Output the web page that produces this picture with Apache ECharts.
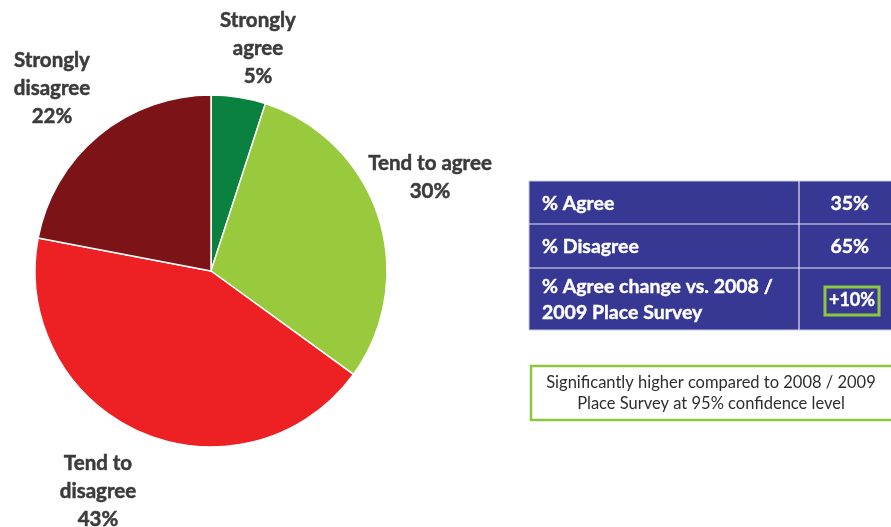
<!DOCTYPE html>
<html>
<head>
<meta charset="utf-8">
<script src="https://cdn.jsdelivr.net/npm/echarts@6/dist/echarts.min.js"></script>
<style>
  html, body { margin: 0; padding: 0; background: #ffffff; }
  #chart { width: 891px; height: 527px; }
</style>
</head>
<body>
<div id="chart"></div>
<script>
// Survey response shares (percent)
const categories = ['Strongly agree', 'Tend to agree', 'Tend to disagree', 'Strongly disagree'];
const labelLines = ['Strongly\nagree', 'Tend to agree', 'Tend to\ndisagree', 'Strongly\ndisagree'];
const shares = [5, 30, 43, 22];
const colors = ['#0b8140', '#99c93c', '#ed2024', '#7b1317'];

// Summary table
const tableLabels = ['% Agree', '% Disagree', '% Agree change vs. 2008 /\n2009 Place Survey'];
const tableValues = ['35%', '65%', '+10%'];
const noteText = 'Significantly higher compared to 2008 / 2009\nPlace Survey at 95% confidence level';

const FONT = 'Lato, "Open Sans", sans-serif';
const TEXT = '#3b3b3b';

// label anchor points (centre of each label block)
const labelAnchors = [[258, 48], [430, 177], [98, 491], [52, 88]];

const chart = echarts.init(document.getElementById('chart'), null, { renderer: 'canvas' });

// table geometry
const tX = 529, tY = 181, tW = 366, colX = 799;
const rowY = [181, 224, 268, 330];
const tableGraphics = [];
tableGraphics.push({
  type: 'rect', shape: { x: tX, y: tY, width: tW, height: rowY[3] - tY },
  style: { fill: '#363893', stroke: '#c9c9dd', lineWidth: 1 }, z: 10
});
for (let i = 1; i < 3; i++) {
  tableGraphics.push({
    type: 'line', shape: { x1: tX, y1: rowY[i], x2: tX + tW, y2: rowY[i] },
    style: { stroke: '#e6e6f0', lineWidth: 1.2 }, z: 11
  });
}
tableGraphics.push({
  type: 'line', shape: { x1: colX, y1: tY, x2: colX, y2: rowY[3] },
  style: { stroke: '#e6e6f0', lineWidth: 1.2 }, z: 11
});
tableLabels.forEach((t, i) => {
  const cy = (rowY[i] + rowY[i + 1]) / 2 + 1;
  tableGraphics.push({
    type: 'text', x: 542, y: cy, z: 12,
    style: {
      text: t, fill: '#ffffff', font: 'bold 19.5px ' + FONT,
      stroke: '#ffffff', lineWidth: 0.4,
      verticalAlign: 'middle', align: 'left', lineHeight: 26
    }
  });
  const last = i === tableLabels.length - 1;
  tableGraphics.push({
    type: 'text', x: last ? 852 : 869, y: cy, z: 12,
    style: {
      text: tableValues[i], fill: '#ffffff',
      font: 'bold ' + (last ? 18 : 19.5) + 'px ' + FONT,
      stroke: '#ffffff', lineWidth: 0.4,
      verticalAlign: 'middle', align: last ? 'center' : 'right'
    }
  });
});
// highlight frame around the significant change
tableGraphics.push({
  type: 'rect', shape: { x: 825, y: 287, width: 54, height: 28 },
  style: { fill: 'none', stroke: '#8dc63f', lineWidth: 3 }, z: 13
});
// note box
tableGraphics.push({
  type: 'rect', shape: { x: 531, y: 366, width: 364, height: 54 },
  style: { fill: '#ffffff', stroke: '#8dc63f', lineWidth: 2.5 }, z: 10
});
tableGraphics.push({
  type: 'text', x: 711, y: 393, z: 12,
  style: {
    text: noteText, fill: '#2e2e2e', font: '16.5px ' + FONT,
    align: 'center', verticalAlign: 'middle', lineHeight: 21
  }
});

chart.setOption({
  backgroundColor: '#ffffff',
  animation: false,
  color: colors,
  series: [{
    type: 'pie',
    center: [211, 271],
    radius: [0, 176],
    startAngle: 90,
    clockwise: true,
    itemStyle: { borderColor: '#ffffff', borderWidth: 1.5 },
    label: {
      show: true,
      position: 'outside',
      formatter: p => labelLines[p.dataIndex] + '\n' + p.value + '%',
      color: TEXT,
      fontFamily: FONT,
      fontWeight: 'bold',
      fontSize: 20.5,
      lineHeight: 28,
      align: 'center',
      overflow: 'none',
      textBorderColor: TEXT,
      textBorderWidth: 0.5
    },
    labelLine: { show: false },
    labelLayout: p => ({
      x: labelAnchors[p.dataIndex][0],
      y: labelAnchors[p.dataIndex][1],
      align: 'center',
      verticalAlign: 'middle'
    }),
    emphasis: { disabled: true },
    data: categories.map((c, i) => ({ name: c, value: shares[i] }))
  }],
  graphic: tableGraphics
});
</script>
</body>
</html>
